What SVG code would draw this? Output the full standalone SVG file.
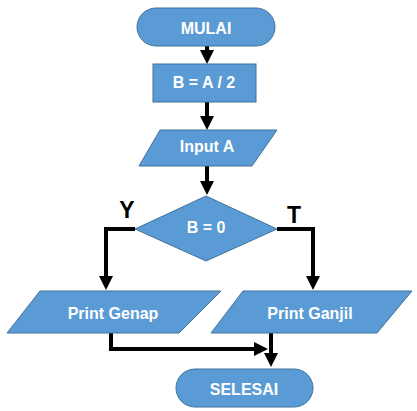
<svg xmlns="http://www.w3.org/2000/svg" width="417" height="411" viewBox="0 0 417 411">
<style>
.s{fill:#5B9BD5;stroke:#41719C;stroke-width:1}
.t{font-family:"Liberation Sans",Arial,sans-serif;font-weight:bold;font-size:16px;fill:#fff;text-anchor:middle}
.l{font-family:"Liberation Sans",Arial,sans-serif;font-weight:bold;font-size:23px;fill:#000;text-anchor:middle}
.c{fill:none;stroke:#000;stroke-width:4;stroke-linejoin:miter}
</style>
<defs>
<marker id="ah" markerUnits="userSpaceOnUse" markerWidth="14" markerHeight="14" refX="8" refY="7" orient="auto" viewBox="0 0 14 14">
<path d="M0,0 L14,7 L0,14 z" fill="#000"/>
</marker>
</defs>
<rect width="417" height="411" fill="#fff"/>
<g id="connectors">
<path class="c" d="M207,46 V58" marker-end="url(#ah)"/>
<path class="c" d="M207,102 V124" marker-end="url(#ah)"/>
<path class="c" d="M207,166 V189" marker-end="url(#ah)"/>
<path class="c" d="M135,229 H106 V284" marker-end="url(#ah)"/>
<path class="c" d="M277,229 H313 V284" marker-end="url(#ah)"/>
<path class="c" d="M111,333 V349 H262" marker-end="url(#ah)"/>
<path class="c" d="M271,333 V361" marker-end="url(#ah)"/>
</g>
<g id="mulai">
<rect class="s" x="137" y="8" width="138" height="38" rx="19" ry="19"/>
<text class="t" x="206" y="34">MULAI</text>
</g>
<g id="assign">
<rect class="s" x="153" y="64" width="103" height="38"/>
<text class="t" x="204" y="88">B = A / 2</text>
</g>
<g id="input">
<polygon class="s" points="160,130 277,130 252,166 139,166"/>
<text class="t" x="207" y="152">Input A</text>
</g>
<g id="decision">
<polygon class="s" points="206,196 277,229 206,261 135,229"/>
<text class="t" x="206" y="233">B = 0</text>
</g>
<g id="labelY"><text class="l" x="127" y="218">Y</text></g>
<g id="labelT"><text class="l" x="294" y="223">T</text></g>
<g id="genap">
<polygon class="s" points="40,291 221,291 179,333 7,333"/>
<text class="t" x="113" y="319">Print Genap</text>
</g>
<g id="ganjil">
<polygon class="s" points="243,291 412,291 377,333 211,333"/>
<text class="t" x="310" y="319">Print Ganjil</text>
</g>
<g id="selesai">
<rect class="s" x="176" y="369" width="137" height="38" rx="19" ry="19"/>
<text class="t" x="244" y="395">SELESAI</text>
</g>
</svg>
